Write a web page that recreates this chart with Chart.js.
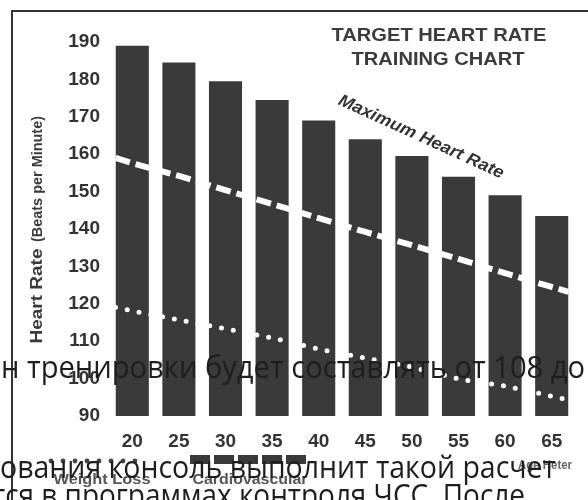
<!DOCTYPE html>
<html>
<head>
<meta charset="utf-8">
<script src="https://cdn.jsdelivr.net/npm/chart.js@4"></script>
<style>
html,body{margin:0;padding:0;background:#fff;width:588px;height:500px;overflow:hidden}
#wrap{position:relative;width:588px;height:500px}
canvas{position:absolute;left:0;top:0}
</style>
</head>
<body>
<div id="wrap"><canvas id="c" width="588" height="500"></canvas></div>
<script>
// ---- data ----
const ages = ['20','25','30','35','40','45','50','55','60','65'];
const maxHeartRate = [189, 184.5, 179.5, 174.5, 169, 164, 159.5, 154, 149, 143.5];
const zoneAges = [18.2, 20, 25, 30, 35, 40, 45, 50, 55, 60, 65, 66.8];
const upperZone = [159.0, 157.6, 154.2, 150.4, 146.7, 142.9, 139.2, 135.7, 132.0, 128.2, 124.5, 123.2];
const lowerZone = [119.1, 118.1, 115.7, 113.3, 110.9, 107.9, 105.5, 103.1, 99.9, 98.0, 95.3, 94.3];
const yMin = 90, yMax = 190, yStep = 10;

const titleLines = ['TARGET HEART RATE', 'TRAINING CHART'];
const yTitleMain = 'Heart Rate';
const yTitleSub = '(Beats per Minute)';
const curveLabel = 'Maximum Heart Rate';
const legendLabels = ['Weight Loss', 'Cardiovascular', 'Age Heter'];
const overlayLines = [
  'н тренировки будет составлять от 108 до',
  'ования консоль выполнит такой расчет',
  'тся в программах контроля ЧСС. После'
];

const BAR = '#3a3a3a';
const SANS = "'Liberation Sans', Arial, sans-serif";

function fitText(ctx, text, font, x, y, w, opts) {
  opts = opts || {};
  ctx.save();
  ctx.font = font;
  ctx.fillStyle = opts.color || '#333';
  ctx.translate(x, y);
  if (opts.rot) ctx.rotate(opts.rot);
  const m = ctx.measureText(text).width;
  const s = w ? w / m : 1;
  ctx.scale(s, 1);
  ctx.textAlign = opts.align || 'center';
  ctx.textBaseline = opts.baseline || 'middle';
  ctx.fillText(text, 0, 0);
  ctx.restore();
}

const decor = {
  id: 'decor',
  afterDraw(chart) {
    const ctx = chart.ctx;
    // frame
    ctx.save();
    ctx.strokeStyle = '#333';
    ctx.lineWidth = 2;
    ctx.beginPath();
    ctx.moveTo(12, 501);
    ctx.lineTo(12, 11);
    ctx.lineTo(590, 11);
    ctx.stroke();
    ctx.restore();

    // title
    fitText(ctx, titleLines[0], 'bold 19px ' + SANS, 439, 36, 215, {color: '#3c3c3c'});
    fitText(ctx, titleLines[1], 'bold 19px ' + SANS, 438, 60, 173, {color: '#3c3c3c'});

    // y axis title
    fitText(ctx, yTitleSub, 'bold 14px ' + SANS, 38, 179, 126, {rot: -Math.PI / 2, color: '#3a3a3a'});
    fitText(ctx, yTitleMain, 'bold 16px ' + SANS, 38, 296, 95, {rot: -Math.PI / 2, color: '#3a3a3a'});

    // curve label
    fitText(ctx, curveLabel, 'italic bold 17px ' + SANS, 421, 137, 180, {rot: 24.5 * Math.PI / 180, color: '#333'});

    // legend markers
    ctx.save();
    ctx.fillStyle = '#444';
    for (let x = 51; x <= 135; x += 12) {
      ctx.beginPath();
      ctx.arc(x, 461, 2.4, 0, Math.PI * 2);
      ctx.fill();
    }
    ctx.fillStyle = BAR;
    for (let x = 190; x < 308; x += 24) {
      ctx.fillRect(x, 455, Math.min(20, 308 - x), 9);
    }
    ctx.restore();
    fitText(ctx, legendLabels[0], 'bold 14px ' + SANS, 102, 480, 97, {color: '#555'});
    fitText(ctx, legendLabels[1], 'bold 14px ' + SANS, 250, 480, 115, {color: '#555'});
    fitText(ctx, legendLabels[2], 'bold 12px ' + SANS, 545, 466, 54, {color: '#666'});

    // overlaid Russian text
    const rf = "31px 'Open Sans', 'Noto Sans', sans-serif";
    fitText(ctx, overlayLines[0], rf, 1, 378, 584, {align: 'left', baseline: 'alphabetic', color: '#1e1e1e'});
    fitText(ctx, overlayLines[1], rf, 0, 478, 556, {align: 'left', baseline: 'alphabetic', color: '#1e1e1e'});
    fitText(ctx, overlayLines[2], rf, -8, 506, 533, {align: 'left', baseline: 'alphabetic', color: '#1e1e1e'});
  }
};

const tickFont = {family: SANS, size: 19, weight: 'bold'};

new Chart(document.getElementById('c'), {
  type: 'bar',
  data: {
    labels: ages,
    datasets: [
      {
        type: 'line',
        label: 'upper',
        xAxisID: 'xl',
        data: zoneAges.map((a, i) => ({x: a, y: upperZone[i]})),
        borderColor: '#ffffff',
        borderWidth: 6,
        borderDash: [15, 6],
        pointRadius: 0,
        fill: false,
        tension: 0,
        order: 0
      },
      {
        type: 'line',
        label: 'lower',
        xAxisID: 'xl',
        data: zoneAges.map((a, i) => ({x: a, y: lowerZone[i]})),
        borderColor: '#ffffff',
        borderWidth: 5,
        borderDash: [0, 12],
        borderCapStyle: 'round',
        pointRadius: 0,
        fill: false,
        tension: 0,
        order: 0
      },
      {
        type: 'bar',
        label: 'Maximum Heart Rate',
        data: maxHeartRate,
        backgroundColor: BAR,
        borderWidth: 0,
        grouped: false,
        barPercentage: 0.71,
        categoryPercentage: 1,
        order: 1
      }
    ]
  },
  options: {
    responsive: false,
    animation: false,
    layout: {padding: {top: 42, right: 13, bottom: 0, left: 0}},
    plugins: {legend: {display: false}, tooltip: {enabled: false}},
    scales: {
      x: {
        type: 'category',
        offset: true,
        grid: {display: false, drawTicks: false},
        border: {display: false},
        ticks: {font: tickFont, color: '#333', padding: 14},
        afterFit: s => { s.height = 84; }
      },
      xl: {
        type: 'linear',
        display: false,
        offset: false,
        grid: {offset: false},
        min: 17.5,
        max: 67.5
      },
      y: {
        min: yMin,
        max: yMax,
        grid: {display: false, drawTicks: false},
        border: {display: false},
        ticks: {stepSize: yStep, font: tickFont, color: '#333', padding: 9},
        afterFit: s => { s.width = 109; }
      }
    }
  },
  plugins: [decor]
});
</script>
</body>
</html>
